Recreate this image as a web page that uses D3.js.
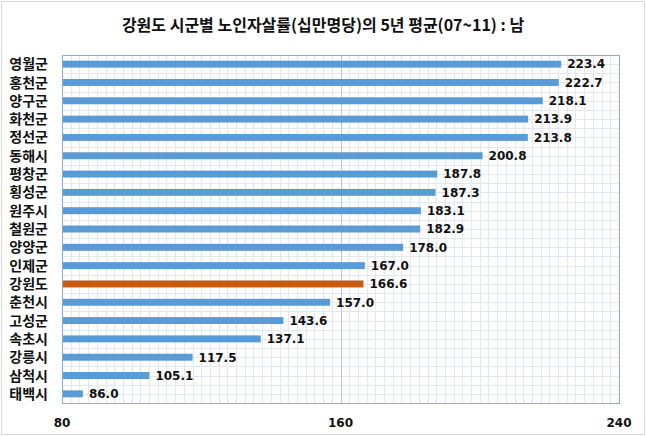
<!DOCTYPE html>
<html>
<head>
<meta charset="utf-8">
<script src="https://cdn.jsdelivr.net/npm/d3@7"></script>
<style>
  body { margin: 0; background: #fff; }
  text { font-family: "Noto Sans CJK KR", "Noto Sans", sans-serif; }
  text.num { font-family: "DejaVu Sans", sans-serif; }
</style>
</head>
<body>
<svg id="chart" width="646" height="436"></svg>
<script>
// 시군별 값 (위에서 아래 순서)
const regions = ["영월군", "홍천군", "양구군", "화천군", "정선군", "동해시", "평창군", "횡성군", "원주시", "철원군",
                 "양양군", "인제군", "강원도", "춘천시", "고성군", "속초시", "강릉시", "삼척시", "태백시"];
const rates = [223.4, 222.7, 218.1, 213.9, 213.8, 200.8, 187.8, 187.3, 183.1, 182.9,
               178.0, 167.0, 166.6, 157.0, 143.6, 137.1, 117.5, 105.1, 86.0];
const xTicks = [80, 160, 240];
const highlight = "강원도";

const margin = { top: 55, right: 27, bottom: 33, left: 62 },
      W = 646, H = 436,
      width = W - margin.left - margin.right,
      height = H - margin.top - margin.bottom;

const svg = d3.select("#chart");

// 차트 테두리
svg.append("rect")
    .attr("x", 1.5).attr("y", 1.5)
    .attr("width", W - 3).attr("height", H - 3)
    .attr("fill", "#fff").attr("stroke", "#d9d9d9");

svg.append("text")
    .attr("x", W / 2).attr("y", 31)
    .attr("text-anchor", "middle")
    .attr("font-size", 16).attr("font-weight", "bold")
    .attr("fill", "#111")
    .text("강원도 시군별 노인자살률(십만명당)의 5년 평균(07~11) : 남");

const g = svg.append("g").attr("transform", `translate(${margin.left},${margin.top})`);

const x = d3.scaleLinear().domain([80, 240]).range([0, width]);
const y = d3.scaleBand().domain(regions).range([0, height]).paddingInner(0.62).paddingOuter(0.31);

// 보조 눈금선
const minor = d3.range(80, 240.01, 2.5);
g.selectAll("line.vminor").data(minor).enter().append("line")
    .attr("x1", d => Math.round(x(d)) + 0.5).attr("x2", d => Math.round(x(d)) + 0.5)
    .attr("y1", 0).attr("y2", height)
    .attr("stroke", "#e2e8f0");

const rowStep = height / regions.length / 2;
g.selectAll("line.hminor").data(d3.range(1, regions.length * 2)).enter().append("line")
    .attr("x1", 0).attr("x2", width)
    .attr("y1", d => Math.round(d * rowStep) + 0.5).attr("y2", d => Math.round(d * rowStep) + 0.5)
    .attr("stroke", "#e2e8f0");

// 주 눈금선
g.selectAll("line.vmajor").data(xTicks).enter().append("line")
    .attr("x1", d => Math.round(x(d)) + 0.5).attr("x2", d => Math.round(x(d)) + 0.5)
    .attr("y1", 0).attr("y2", height)
    .attr("stroke", "#bfc7d2");

g.append("rect")
    .attr("x", 0.5).attr("y", 0.5)
    .attr("width", width).attr("height", height)
    .attr("fill", "none").attr("stroke", "#8eaccc");

g.selectAll("rect.bar").data(regions).enter().append("rect")
    .attr("x", 1)
    .attr("y", d => y(d))
    .attr("width", (d, i) => x(rates[i]) - 1)
    .attr("height", y.bandwidth())
    .attr("fill", d => d === highlight ? "#c55a11" : "#5b9bd5");

g.selectAll("text.val").data(regions).enter().append("text")
    .attr("class", "num")
    .attr("x", (d, i) => x(rates[i]) + 6)
    .attr("y", d => y(d) + y.bandwidth() / 2)
    .attr("dy", "0.36em")
    .attr("font-size", 12).attr("font-weight", "bold")
    .attr("fill", "#111")
    .text((d, i) => rates[i].toFixed(1));

g.selectAll("text.cat").data(regions).enter().append("text")
    .attr("x", -14)
    .attr("y", d => y(d) + y.bandwidth() / 2)
    .attr("dy", "0.36em")
    .attr("text-anchor", "end")
    .attr("font-size", 14).attr("font-weight", "bold")
    .attr("fill", "#111")
    .text(d => d);

g.selectAll("text.tick").data(xTicks).enter().append("text")
    .attr("class", "num")
    .attr("x", d => x(d))
    .attr("y", height + 24)
    .attr("text-anchor", "middle")
    .attr("font-size", 12).attr("font-weight", "bold")
    .attr("fill", "#111")
    .text(d => d);
</script>
</body>
</html>
